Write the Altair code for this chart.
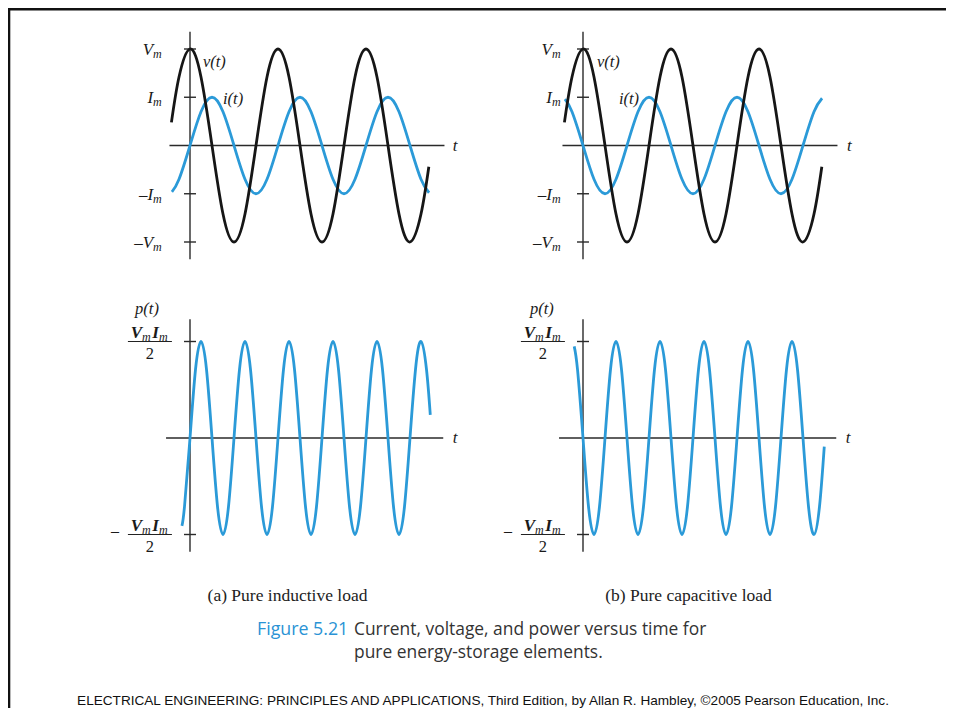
import altair as alt
import pandas as pd

# ---------------- values (theta = wt, degrees) ----------------
# voltage v(t) (units of Vm) - same in both panels
v_theta = [-76, -45, 0, 45, 90, 135, 180, 225, 270, 315, 360, 405, 450,
           495, 540, 585, 630, 675, 720, 765, 810, 855, 900, 945, 977]
v_vals = [0.24, 0.71, 1, 0.71, 0, -0.71, -1, -0.71, 0, 0.71, 1, 0.71, 0,
          -0.71, -1, -0.71, 0, 0.71, 1, 0.71, 0, -0.71, -1, -0.71, -0.22]

# current i(t) (units of Vm; Im = 0.5 Vm)
i_theta = [-74, -45, 0, 45, 90, 135, 180, 225, 270, 315, 360, 405, 450,
           495, 540, 585, 630, 675, 720, 765, 810, 855, 900, 945, 978]
i_ind = [-0.48, -0.35, 0, 0.35, 0.5, 0.35, 0, -0.35, -0.5, -0.35, 0, 0.35, 0.5,
         0.35, 0, -0.35, -0.5, -0.35, 0, 0.35, 0.5, 0.35, 0, -0.35, -0.49]
i_cap = [0.48, 0.35, 0, -0.35, -0.5, -0.35, 0, 0.35, 0.5, 0.35, 0, -0.35, -0.5,
         -0.35, 0, 0.35, 0.5, 0.35, 0, -0.35, -0.5, -0.35, 0, 0.35, 0.49]

# power p(t) (units of VmIm/2)
p_mid_theta = [0, 22.5, 45, 67.5, 90, 112.5, 135, 157.5,
               180, 202.5, 225, 247.5, 270, 292.5, 315, 337.5,
               360, 382.5, 405, 427.5, 450, 472.5, 495, 517.5,
               540, 562.5, 585, 607.5, 630, 652.5, 675, 697.5,
               720, 742.5, 765, 787.5, 810, 832.5, 855, 877.5,
               900, 922.5, 945, 967.5]
p_ind_theta = [-33, -22.5] + p_mid_theta + [983]
p_ind = [-0.91, -0.71,
         0, 0.71, 1, 0.71, 0, -0.71, -1, -0.71,
         0, 0.71, 1, 0.71, 0, -0.71, -1, -0.71,
         0, 0.71, 1, 0.71, 0, -0.71, -1, -0.71,
         0, 0.71, 1, 0.71, 0, -0.71, -1, -0.71,
         0, 0.71, 1, 0.71, 0, -0.71, -1, -0.71,
         0, 0.71, 1, 0.71,
         0.24]
p_cap_theta = [-36, -22.5] + p_mid_theta + [987]
p_cap = [0.95, 0.71,
         0, -0.71, -1, -0.71, 0, 0.71, 1, 0.71,
         0, -0.71, -1, -0.71, 0, 0.71, 1, 0.71,
         0, -0.71, -1, -0.71, 0, 0.71, 1, 0.71,
         0, -0.71, -1, -0.71, 0, 0.71, 1, 0.71,
         0, -0.71, -1, -0.71, 0, 0.71, 1, 0.71,
         0, -0.71, -1, -0.71,
         -0.09]

# axis tick values
top_ticks = [1, 0.5, -0.5, -1]
bot_ticks = [1, -1]

# labels: (text, x in degrees, y in panel units, role)
top_labels_a = [("V", -151, 1, "main"), ("m", -151, 1, "sub"),
                ("I", -151, 0.5, "main"), ("m", -151, 0.5, "sub"),
                ("\u2013I", -151, -0.5, "main"), ("m", -151, -0.5, "sub"),
                ("\u2013V", -151, -1, "main"), ("m", -151, -1, "sub"),
                ("v(t)", 53, 0.87, "name"), ("i(t)", 135, 0.48, "name"),
                ("t", 1085, 0, "t")]
top_labels_b = [("V", -127, 1, "main"), ("m", -127, 1, "sub"),
                ("I", -127, 0.5, "main"), ("m", -127, 0.5, "sub"),
                ("\u2013I", -127, -0.5, "main"), ("m", -127, -0.5, "sub"),
                ("\u2013V", -127, -1, "main"), ("m", -127, -1, "sub"),
                ("v(t)", 57, 0.87, "name"), ("i(t)", 147, 0.48, "name"),
                ("t", 1090, 0, "t")]


def bottom_labels(ptx):
    return [("p(t)", ptx, 1, "ptitle"),
            ("V", -196, 1, "num"), ("m", -196, 1, "numsub"),
            ("I", -127, 1, "num"), ("m", -127, 1, "numsub"),
            ("2", -164, 1, "den"),
            ("\u2013", -307, -1, "minus"),
            ("V", -196, -1, "num"), ("m", -196, -1, "numsub"),
            ("I", -127, -1, "num"), ("m", -127, -1, "numsub"),
            ("2", -164, -1, "den"),
            ("t", 1085, 0, "t")]


captions = [("(a) Pure inductive load", 279.5, 588, "cap_serif"),
            ("(b) Pure capacitive load", 680.5, 588, "cap_serif"),
            ("Figure 5.21", 249, 622, "fig"),
            ("Current, voltage, and power versus time for", 346, 622, "capsans"),
            ("pure energy-storage elements.", 346, 645, "capsans"),
            ("ELECTRICAL ENGINEERING: PRINCIPLES AND APPLICATIONS, Third Edition, "
             "by Allan R. Hambley, \u00a92005 Pearson Education, Inc.", 475, 693, "footer")]

# ---------------- layout / style ----------------
W, H = 938, 700
PERIOD_PX = 88
AXIS_X = {"a": 182, "b": 575}
ROW_Y = {"top": [234, 41], "bot": [526.5, 333.5]}
TICK = 24.5          # half tick length, degrees
BLACK = "#161616"
BLUE = "#2b9ad8"
AXC = "#2a2a2a"
SERIF = "Liberation Serif"

ROLE = {
    "main": dict(align="right", baseline="alphabetic", dy=6, fontSize=17, fontStyle="italic"),
    "sub": dict(align="left", baseline="alphabetic", dy=9, fontSize=12, fontStyle="italic"),
    "name": dict(align="left", baseline="middle", fontSize=16.5, fontStyle="italic"),
    "t": dict(align="center", baseline="middle", fontSize=17, fontStyle="italic"),
    "ptitle": dict(align="center", baseline="alphabetic", dy=-28, fontSize=16.5, fontStyle="italic"),
    "num": dict(align="right", baseline="alphabetic", dy=-4, fontSize=17, fontStyle="italic", fontWeight="bold"),
    "numsub": dict(align="left", baseline="alphabetic", dy=-1, fontSize=12, fontStyle="italic"),
    "den": dict(align="center", baseline="alphabetic", dy=17, fontSize=16.5),
    "minus": dict(align="center", baseline="middle", dy=-4, fontSize=16),
}
CAP_ROLE = {
    "cap_serif": dict(align="center", baseline="middle", font=SERIF, fontSize=17.5, color="#222222"),
    "fig": dict(align="left", baseline="middle", font="Open Sans", fontSize=17.8, color="#2a93d5"),
    "capsans": dict(align="left", baseline="middle", font="Open Sans", fontSize=17.4, color="#333333"),
    "footer": dict(align="center", baseline="middle", font="Liberation Sans", fontSize=13.6, color="#111111"),
}


def sx(col):
    x0 = AXIS_X[col]
    return alt.Scale(domain=[0, 360], range=[x0, x0 + PERIOD_PX], nice=False, zero=False)


def sy(row):
    return alt.Scale(domain=[-1, 1], range=ROW_Y[row], nice=False, zero=False)


def curve(theta, vals, col, row, color):
    df = pd.DataFrame({"t": theta, "y": vals})
    return alt.Chart(df).mark_line(interpolate="natural", color=color, strokeWidth=2.8).encode(
        x=alt.X("t:Q", scale=sx(col), axis=None),
        y=alt.Y("y:Q", scale=sy(row), axis=None))


def axes(col, row, xext, yext, ticks, bars=False):
    out = []
    vdf = pd.DataFrame({"x": [0], "y": [yext[0]], "y2": [yext[1]]})
    out.append(alt.Chart(vdf).mark_rule(color=AXC, strokeWidth=1.4).encode(
        x=alt.X("x:Q", scale=sx(col), axis=None),
        y=alt.Y("y:Q", scale=sy(row), axis=None), y2="y2:Q"))
    hdf = pd.DataFrame({"x": [xext[0]] + [-TICK] * len(ticks),
                        "x2": [xext[1]] + [TICK] * len(ticks),
                        "y": [0] + ticks})
    out.append(alt.Chart(hdf).mark_rule(color=AXC, strokeWidth=1.4).encode(
        x=alt.X("x:Q", scale=sx(col), axis=None), x2="x2:Q",
        y=alt.Y("y:Q", scale=sy(row), axis=None)))
    if bars:
        bdf = pd.DataFrame({"x": [-254, -254], "x2": [-74, -74], "y": [1, -1]})
        out.append(alt.Chart(bdf).mark_rule(color="#222222", strokeWidth=1.1).encode(
            x=alt.X("x:Q", scale=sx(col), axis=None), x2="x2:Q",
            y=alt.Y("y:Q", scale=sy(row), axis=None)))
    return out


def labels(rows, col, row):
    df = pd.DataFrame(rows, columns=["text", "x", "y", "role"])
    out = []
    for role, props in ROLE.items():
        sub = df[df.role == role]
        if len(sub) == 0:
            continue
        out.append(alt.Chart(sub).mark_text(font=SERIF, color="#1a1a1a", **props).encode(
            x=alt.X("x:Q", scale=sx(col), axis=None),
            y=alt.Y("y:Q", scale=sy(row), axis=None),
            text="text:N"))
    return out


layers = []
# top-left (a): inductive
layers += axes("a", "top", [-84, 1041], [-1.18, 1.18], top_ticks)
layers.append(curve(i_theta, i_ind, "a", "top", BLUE))
layers.append(curve(v_theta, v_vals, "a", "top", BLACK))
layers += labels(top_labels_a, "a", "top")
# top-right (b): capacitive
layers += axes("b", "top", [-84, 1041], [-1.18, 1.18], top_ticks)
layers.append(curve(i_theta, i_cap, "b", "top", BLUE))
layers.append(curve(v_theta, v_vals, "b", "top", BLACK))
layers += labels(top_labels_b, "b", "top")
# bottom-left (a)
layers += axes("a", "bot", [-98, 1036], [-1.18, 1.23], bot_ticks, bars=True)
layers.append(curve(p_ind_theta, p_ind, "a", "bot", BLUE))
layers += labels(bottom_labels(-176), "a", "bot")
# bottom-right (b)
layers += axes("b", "bot", [-98, 1036], [-1.18, 1.23], bot_ticks, bars=True)
layers.append(curve(p_cap_theta, p_cap, "b", "bot", BLUE))
layers += labels(bottom_labels(-168), "b", "bot")

# captions and footer
cdf = pd.DataFrame(captions, columns=["text", "x", "y", "role"])
for role, props in CAP_ROLE.items():
    sub = cdf[cdf.role == role]
    layers.append(alt.Chart(sub).mark_text(**props).encode(
        x=alt.X("x:Q", scale=None), y=alt.Y("y:Q", scale=None), text="text:N"))

# slide frame (top and left edges)
fdf = pd.DataFrame({"k": [0]})
layers.append(alt.Chart(fdf).mark_rule(color="#111111", strokeWidth=2.6).encode(
    x=alt.value(0), x2=alt.value(W), y=alt.value(1.2)))
layers.append(alt.Chart(fdf).mark_rule(color="#111111", strokeWidth=2.6).encode(
    x=alt.value(1), y=alt.value(0), y2=alt.value(H)))

chart = alt.layer(*layers).resolve_scale(x="independent", y="independent").properties(
    width=W, height=H, padding=0,
    autosize=alt.AutoSizeParams(type="none"),
    background="white",
).configure_view(stroke=None)

chart.save("out.html", embed_options={"renderer": "svg", "actions": False})
